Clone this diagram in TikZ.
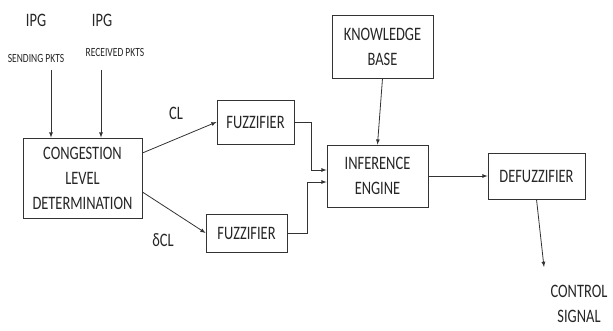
\documentclass[tikz,border=0pt]{standalone}
\usepackage{fontspec}
\setmainfont{Carlito}[FakeStretch=0.76]
\usepackage{tikz}
\usetikzlibrary{positioning}

\tikzset{
    block/.style={draw=black!80, line width=0.8pt, align=center, inner sep=2pt},
    arr/.style={->, >=latex, draw=black!80, line width=0.8pt},
    lbl/.style={text=black!85, font=\fontsize{19}{25}\selectfont, align=center, inner sep=0pt},
    tiny/.style={text=black!85, font=\fontsize{12.5}{14}\selectfont, inner sep=0pt}
}

\begin{document}
\begin{tikzpicture}[x=1pt, y=-1pt, every node/.style={text=black!85, font=\fontsize{19}{25}\selectfont}]
            \useasboundingbox (0,0) rectangle (613,331);
            % Nodes
            \node[block, minimum width=119pt, minimum height=80pt] (cld) at (82.5,178) {CONGESTION\\LEVEL\\DETERMINATION};
            \node[block, minimum width=77pt, minimum height=44pt] (fuzz_cl) at (255.5,122) {FUZZIFIER};
            \node[block, minimum width=81pt, minimum height=38pt] (fuzz_dcl) at (246.5,233) {FUZZIFIER};
            \node[block, minimum width=101pt, minimum height=62pt] (engine) at (377.5,176) {INFERENCE\\ENGINE};
            \node[block, minimum width=101pt, minimum height=63pt] (kbase) at (382.5,46.5) {KNOWLEDGE\\BASE};
            \node[block, minimum width=97pt, minimum height=46pt] (defuzz) at (536.5,176) {DEFUZZIFIER};
            
            % Labels
            \node[lbl] (ipg_send) at (36,20) {IPG};
            \node[lbl] (ipg_recv) at (102,20) {IPG};
            \node[tiny] (send_pkts) at (36,58) {SENDING PKTS};
            \node[tiny] (recv_pkts) at (115,52) {RECEIVED PKTS};
            \node[lbl] (cl) at (176,113) {CL};
            \node[lbl] (dcl) at (163,240) {δCL};
            \node[lbl] (ctrl) at (579,304) {CONTROL\\SIGNAL};
            \coordinate (in_send) at (51,70);
            \coordinate (in_recv) at (101,70);
            \coordinate (out_ctrl) at (544,267);
            
            % Arrows
            \draw[arr] (in_send) -- (in_send |- cld.north);
            \draw[arr] (in_recv) -- (in_recv |- cld.north);
            \draw[arr] ([yshift=25pt]cld.east) -- (fuzz_cl.west);
            \draw[arr] ([yshift=-14pt]cld.east) -- (fuzz_dcl.west);
            \draw[arr] (fuzz_cl.east) -- ++(17,0) |- ([yshift=6pt]engine.west);
            \draw[arr] (fuzz_dcl.east) -- ++(20,0) |- ([yshift=-6pt]engine.west);
            \draw[arr] (kbase.south) -- (engine.north);
            \draw[arr] (engine.east) -- (defuzz.west);
            \draw[arr] (defuzz.south) -- (out_ctrl);
        \end{tikzpicture}
\end{document}
